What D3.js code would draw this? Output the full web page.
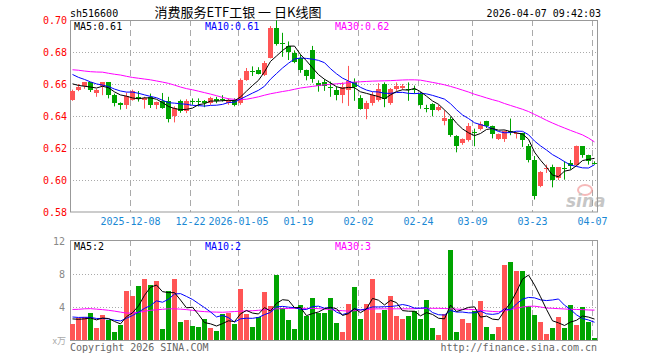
<!DOCTYPE html>
<html>
<head>
<meta charset="utf-8">
<script src="https://cdn.jsdelivr.net/npm/d3@7"></script>
<style>
body { margin: 0; background: #fff; }
svg { display: block; }
text { font-family: "DejaVu Sans Mono", monospace; font-size: 10px; }
</style>
</head>
<body>
<div id="chart"></div>
<script>
// 交易日
var dates = [
	'2025-11-24','2025-11-25','2025-11-26','2025-11-27','2025-11-28',
	'2025-12-01','2025-12-02','2025-12-03','2025-12-04','2025-12-05',
	'2025-12-08','2025-12-09','2025-12-10','2025-12-11','2025-12-12',
	'2025-12-15','2025-12-16','2025-12-17','2025-12-18','2025-12-19',
	'2025-12-22','2025-12-23','2025-12-24','2025-12-25','2025-12-26',
	'2025-12-29','2025-12-30','2025-12-31',
	'2026-01-05','2026-01-06','2026-01-07','2026-01-08','2026-01-09',
	'2026-01-12','2026-01-13','2026-01-14','2026-01-15','2026-01-16',
	'2026-01-19','2026-01-20','2026-01-21','2026-01-22','2026-01-23',
	'2026-01-26','2026-01-27','2026-01-28','2026-01-29','2026-01-30',
	'2026-02-02','2026-02-03','2026-02-04','2026-02-05','2026-02-06',
	'2026-02-09','2026-02-10','2026-02-11','2026-02-12','2026-02-13',
	'2026-02-24','2026-02-25','2026-02-26','2026-02-27',
	'2026-03-02','2026-03-03','2026-03-04','2026-03-05','2026-03-06',
	'2026-03-09','2026-03-10','2026-03-11','2026-03-12','2026-03-13',
	'2026-03-16','2026-03-17','2026-03-18','2026-03-19','2026-03-20',
	'2026-03-23','2026-03-24','2026-03-25','2026-03-26','2026-03-27',
	'2026-03-30','2026-03-31','2026-04-01','2026-04-02','2026-04-03',
	'2026-04-07'
];

var open = [
	0.650,0.6565,0.6585,0.661,0.6545,0.6585,0.661,0.6533,0.648,0.647,
	0.650,0.652,0.6498,0.6517,0.6467,0.6496,0.6496,0.6398,0.6496,0.6429,
	0.6493,0.6494,0.6496,0.648,0.6505,0.6505,0.6481,0.6502,0.6481,0.6627,
	0.668,0.6689,0.6656,0.6765,0.6952,0.6855,0.6835,0.6795,0.6765,0.6688,
	0.6813,0.6606,0.661,0.658,0.6565,0.653,0.6565,0.661,0.6515,0.6446,
	0.6481,0.6502,0.6598,0.6481,0.6567,0.6578,0.657,0.6568,0.654,0.6447,
	0.6477,0.6436,0.6367,0.6384,0.6278,0.6232,0.6248,0.630,0.6321,0.6367,
	0.6336,0.6259,0.6259,0.6305,0.629,0.6294,0.6214,0.6127,0.596,0.607,
	0.6079,0.6012,0.6077,0.6106,0.6096,0.621,0.6158,0.6108
];
var high = [
	0.6565,0.660,0.661,0.661,0.657,0.661,0.661,0.654,0.6485,0.6546,
	0.6565,0.6556,0.652,0.654,0.649,0.6544,0.652,0.646,0.6502,0.6505,
	0.651,0.651,0.650,0.652,0.652,0.653,0.651,0.651,0.6635,0.670,
	0.671,0.6705,0.6744,0.6962,0.6998,0.692,0.6866,0.681,0.6785,0.669,
	0.6838,0.6623,0.663,0.6615,0.6585,0.661,0.6713,0.6635,0.653,0.6495,
	0.655,0.6605,0.661,0.6575,0.661,0.660,0.661,0.659,0.655,0.647,
	0.648,0.647,0.6436,0.6395,0.628,0.626,0.6356,0.6321,0.6365,0.637,
	0.634,0.629,0.631,0.6384,0.630,0.6295,0.6225,0.615,0.6055,0.6096,
	0.6096,0.608,0.6117,0.6125,0.6215,0.621,0.6158,0.6117
];
var low = [
	0.6495,0.6555,0.657,0.655,0.652,0.653,0.651,0.646,0.644,0.6444,
	0.6496,0.649,0.6446,0.645,0.6443,0.6445,0.636,0.636,0.642,0.6418,
	0.647,0.646,0.6455,0.647,0.648,0.649,0.647,0.646,0.647,0.662,
	0.665,0.666,0.665,0.676,0.684,0.677,0.675,0.673,0.667,0.6623,
	0.6608,0.6552,0.6557,0.652,0.6498,0.648,0.6463,0.6495,0.644,0.638,
	0.6465,0.649,0.6455,0.647,0.6557,0.6565,0.6495,0.654,0.6445,0.6423,
	0.6398,0.643,0.6342,0.627,0.6173,0.622,0.624,0.6211,0.631,0.6325,
	0.626,0.625,0.6238,0.628,0.6259,0.6207,0.611,0.5878,0.5955,0.6044,
	0.5954,0.600,0.6002,0.6065,0.609,0.6139,0.6096,0.6096
];
var close = [
	0.6555,0.658,0.661,0.6565,0.6565,0.661,0.6533,0.648,0.647,0.6527,
	0.6554,0.6505,0.6512,0.6467,0.6485,0.645,0.6383,0.645,0.6429,0.6496,
	0.6489,0.649,0.648,0.6512,0.6495,0.6502,0.6502,0.6467,0.6627,0.6679,
	0.6678,0.6664,0.6733,0.6952,0.6848,0.685,0.680,0.6735,0.6688,0.665,
	0.663,0.659,0.659,0.6575,0.653,0.658,0.662,0.658,0.6446,0.6481,
	0.6529,0.6571,0.6508,0.6571,0.6585,0.6585,0.656,0.6563,0.6467,0.6444,
	0.6436,0.6456,0.6388,0.6284,0.6211,0.6257,0.6336,0.6298,0.6352,0.6336,
	0.6286,0.6286,0.6305,0.630,0.6295,0.6248,0.6127,0.5902,0.6048,0.6077,
	0.5998,0.6079,0.6075,0.6085,0.621,0.6158,0.6117,0.6106
];
// 成交量（万）
var volume = [
	1.98,2.65,2.79,3.29,1.49,3.07,2.38,1.01,1.82,5.88,
	5.37,6.59,7.43,6.71,7.21,1.37,6.0,7.43,2.22,2.46,
	1.74,1.62,2.5,1.49,1.13,3.21,3.31,1.98,6.22,3.19,
	1.62,2.75,5.86,4.14,7.82,3.85,2.38,1.39,4.29,2.85,
	5.13,3.33,3.31,5.13,2.1,1.01,4.4,6.46,2.59,4.32,
	7.43,3.31,3.6,5.37,2.95,2.59,2.95,3.56,2.59,4.89,
	1.49,0.65,3.19,10.95,1.01,2.59,2.02,3.56,4.69,1.62,
	0.77,1.62,9.05,9.41,8.4,8.4,4.08,3.07,2.22,0.77,
	1.49,2.83,1.49,4.28,1.86,4.04,2.22,0.28
];
// 区间之前9日（估，只用于均线起点）
var preClose = [0.676,0.674,0.672,0.669,0.668,0.663,0.6635,0.659,0.6595];
var preVolume = [3.2,2.6,3.4,2.8,3.1,2.9,2.5,2.8,2.6];
// MA30 从图上读
var ma30Price = [
	0.6689,0.6686,0.6681,0.6677,0.6675,0.6674,0.6667,0.6661,0.6656,0.6648,
	0.6641,0.6636,0.6631,0.6626,0.6619,0.6612,0.6604,0.6593,0.6581,0.6571,
	0.6564,0.6555,0.6546,0.6537,0.6527,0.6516,0.6508,0.6504,0.6502,0.6505,
	0.6512,0.652,0.653,0.6539,0.6546,0.6553,0.6559,0.6567,0.6575,0.658,
	0.6585,0.659,0.6595,0.6598,0.6601,0.6604,0.6608,0.6612,0.6614,0.6616,
	0.6618,0.6619,0.662,0.6621,0.6623,0.6625,0.6626,0.6626,0.6624,0.6617,
	0.661,0.6603,0.6595,0.6585,0.6574,0.6562,0.655,0.6536,0.6525,0.6513,
	0.6502,0.6492,0.6478,0.6466,0.6454,0.6442,0.6428,0.641,0.6392,0.6373,
	0.6356,0.634,0.6325,0.631,0.6296,0.6282,0.6262,0.6238
];
var ma30Vol = [
	3.70,3.72,3.78,3.8,3.74,3.68,3.6,3.5,3.38,3.26,
	3.28,3.36,3.48,3.6,3.66,3.72,3.78,3.78,3.74,3.68,
	3.6,3.5,3.44,3.4,3.38,3.36,3.4,3.45,3.5,3.52,
	3.55,3.6,3.66,3.72,3.78,3.8,3.82,3.84,3.84,3.83,
	3.82,3.8,3.76,3.68,3.6,3.55,3.5,3.55,3.65,3.7,
	3.76,3.78,3.78,3.78,3.78,3.78,3.78,3.8,3.82,3.84,
	3.84,3.84,3.82,3.78,3.74,3.72,3.72,3.68,3.6,3.52,
	3.46,3.42,3.55,3.7,3.85,4.0,4.08,4.1,4.0,3.88,
	3.84,3.8,3.76,3.72,3.7,3.68,3.64,3.62
];

var priceTicks = [0.58, 0.60, 0.62, 0.64, 0.66, 0.68, 0.70];
var volTicks = [4, 8, 12];
var dateTicks = ['2025-12-08','2025-12-22','2026-01-05','2026-01-19','2026-02-02','2026-02-24','2026-03-09','2026-03-23','2026-04-07'];
var dateLabels = ['2025-12-08','12-22','2026-01-05','01-19','02-02','02-24','03-09','03-23','04-07'];

var upColor = '#ff5555';
var downColor = '#00a400';
var gridColor = '#aaaaaa';
var borderColor = '#999999';

var W = 660, H = 360;
var left = 70, right = 598;

var svg = d3.select('#chart').append('svg').attr('width', W).attr('height', H);

var x = d3.scaleBand().domain(dates).range([left, right]);
var y = d3.scaleLinear().domain([0.58, 0.70]).range([212, 20]);
var yv = d3.scaleLinear().domain([0, 12]).range([340, 241]);
var bw = x.bandwidth() - 1;

function cx(i) { return x(dates[i]) + bw / 2; }

// 均线
function movAvg(pre, arr, n) {
	var full = pre.concat(arr);
	return arr.map(function(d, i) {
		return d3.mean(full.slice(i + pre.length - n + 1, i + pre.length + 1));
	});
}
var ma5 = movAvg(preClose, close, 5);
var ma10 = movAvg(preClose, close, 10);
var vma5 = movAvg(preVolume, volume, 5);
var vma10 = movAvg(preVolume, volume, 10);

// 网格
var grid = svg.append('g');
grid.selectAll('.hp').data(priceTicks.slice(1, -1)).enter().append('line')
	.attr('x1', left).attr('x2', 597)
	.attr('y1', function(d) { return Math.round(y(d)) + 0.5; })
	.attr('y2', function(d) { return Math.round(y(d)) + 0.5; })
	.attr('stroke', gridColor).attr('stroke-dasharray', '1,2');
grid.selectAll('.hv').data([4, 8]).enter().append('line')
	.attr('x1', left).attr('x2', 597)
	.attr('y1', function(d) { return Math.round(yv(d)) + 0.5; })
	.attr('y2', function(d) { return Math.round(yv(d)) + 0.5; })
	.attr('stroke', gridColor).attr('stroke-dasharray', '1,2');
[[20, 212], [240, 340]].forEach(function(r) {
	grid.selectAll(null).data(dateTicks).enter().append('line')
		.attr('x1', function(d) { return x(d) + 0.5; })
		.attr('x2', function(d) { return x(d) + 0.5; })
		.attr('y1', r[0]).attr('y2', r[1])
		.attr('stroke', gridColor).attr('stroke-dasharray', '6,4');
});

// 边框
svg.append('rect').attr('x', 70.5).attr('y', 20.5).attr('width', 527).attr('height', 191.5)
	.attr('fill', 'none').attr('stroke', borderColor);
svg.append('rect').attr('x', 70.5).attr('y', 240.5).attr('width', 527).attr('height', 100)
	.attr('fill', 'none').attr('stroke', borderColor);

// 新浪水印
var logo = svg.append('g').attr('opacity', 0.55);
logo.append('ellipse').attr('cx', 585).attr('cy', 190).attr('rx', 7).attr('ry', 5)
	.attr('fill', 'none').attr('stroke', '#f08080').attr('stroke-width', 2);
logo.append('text').attr('x', 566).attr('y', 207).text('sina')
	.style('font-family', 'DejaVu Sans').style('font-size', '17px')
	.style('font-weight', 'bold').style('font-style', 'italic').attr('fill', '#999');

// 坐标轴
var yAxis = svg.append('g').attr('transform', 'translate(' + left + ',0)')
	.call(d3.axisLeft(y).tickValues(priceTicks).tickFormat(d3.format('.2f')).tickSize(0).tickPadding(3));
yAxis.select('.domain').remove();
yAxis.selectAll('text').attr('fill', '#ff0000').style('font-family', '"DejaVu Sans Mono", monospace').style('font-size', '10px');

var vAxis = svg.append('g').attr('transform', 'translate(' + left + ',0)')
	.call(d3.axisLeft(yv).tickValues(volTicks).tickFormat(d3.format('d')).tickSize(0).tickPadding(5));
vAxis.select('.domain').remove();
vAxis.selectAll('text').attr('fill', '#888').style('font-family', '"DejaVu Sans Mono", monospace').style('font-size', '10px');

var xAxis = svg.append('g').attr('transform', 'translate(' + (0.5 - bw / 2 - 0.5) + ',212)')
	.call(d3.axisBottom(x).tickValues(dateTicks)
		.tickFormat(function(d) { return dateLabels[dateTicks.indexOf(d)]; })
		.tickSize(0).tickPadding(6));
xAxis.select('.domain').remove();
xAxis.selectAll('text').attr('fill', '#1a88d4').style('font-family', '"DejaVu Sans Mono", monospace').style('font-size', '10px');

// K线
var candles = svg.append('g').selectAll('g').data(dates).enter().append('g');
candles.append('line')
	.attr('x1', function(d, i) { return cx(i); }).attr('x2', function(d, i) { return cx(i); })
	.attr('y1', function(d, i) { return y(high[i]); })
	.attr('y2', function(d, i) { return y(low[i]); })
	.attr('stroke', function(d, i) { return close[i] >= open[i] ? upColor : downColor; });
candles.append('rect')
	.attr('x', function(d) { return x(d); })
	.attr('width', bw)
	.attr('y', function(d, i) { return y(Math.max(open[i], close[i])); })
	.attr('height', function(d, i) { return Math.max(1, Math.abs(y(open[i]) - y(close[i]))); })
	.attr('fill', function(d, i) { return close[i] >= open[i] ? upColor : downColor; })
	.attr('shape-rendering', 'crispEdges');

// 成交量柱
svg.append('g').selectAll('rect').data(volume).enter().append('rect')
	.attr('x', function(d, i) { return x(dates[i]); })
	.attr('width', bw)
	.attr('y', function(d) { return yv(d); })
	.attr('height', function(d) { return yv(0) - yv(d); })
	.attr('fill', function(d, i) { return close[i] >= open[i] ? upColor : downColor; })
	.attr('shape-rendering', 'crispEdges');

// 均线
function drawLine(arr, scale, color) {
	var line = d3.line().x(function(d, i) { return cx(i); }).y(function(d) { return scale(d); });
	svg.append('path').datum(arr).attr('d', line)
		.attr('fill', 'none').attr('stroke', color).attr('stroke-width', 1);
}
drawLine(ma30Price, y, '#ff00ff');
drawLine(ma10, y, '#0000ff');
drawLine(ma5, y, '#000000');
drawLine(ma30Vol, yv, '#ff00ff');
drawLine(vma10, yv, '#0000ff');
drawLine(vma5, yv, '#000000');

// 文字
var last = dates.length - 1;
function label(txt, lx, ly, color, anchor) {
	return svg.append('text').attr('x', lx).attr('y', ly).attr('fill', color)
		.attr('text-anchor', anchor || 'start').text(txt);
}
label('MA5:' + ma5[last].toFixed(2), 74, 30, '#000');
label('MA10:' + ma10[last].toFixed(2), 205, 30, '#0000ff');
label('MA30:' + ma30Price[last].toFixed(2), 335, 30, '#ff00ff');
label('MA5:' + Math.floor(vma5[last]), 74, 250, '#000');
label('MA10:' + Math.floor(vma10[last]), 205, 250, '#0000ff');
label('MA30:' + Math.floor(ma30Vol[last]), 335, 250, '#ff00ff');

label('sh516600', 70, 17, '#000');
label('2026-04-07 09:42:03', 601, 17, '#000', 'end');
svg.append('text').attr('x', 238).attr('y', 17).attr('text-anchor', 'middle')
	.style('font-family', '"Noto Sans CJK SC", sans-serif').style('font-size', '13px')
	.text('消费服务ETF工银 一 日K线图');

label('x万', 66, 344, '#aaa', 'end').style('font-family', '"Noto Sans CJK SC", sans-serif').style('font-size', '9px');
label('Copyright 2026 SINA.COM', 70, 351, '#666');
label('http://finance.sina.com.cn', 597, 351, '#666', 'end');
</script>
</body>
</html>
